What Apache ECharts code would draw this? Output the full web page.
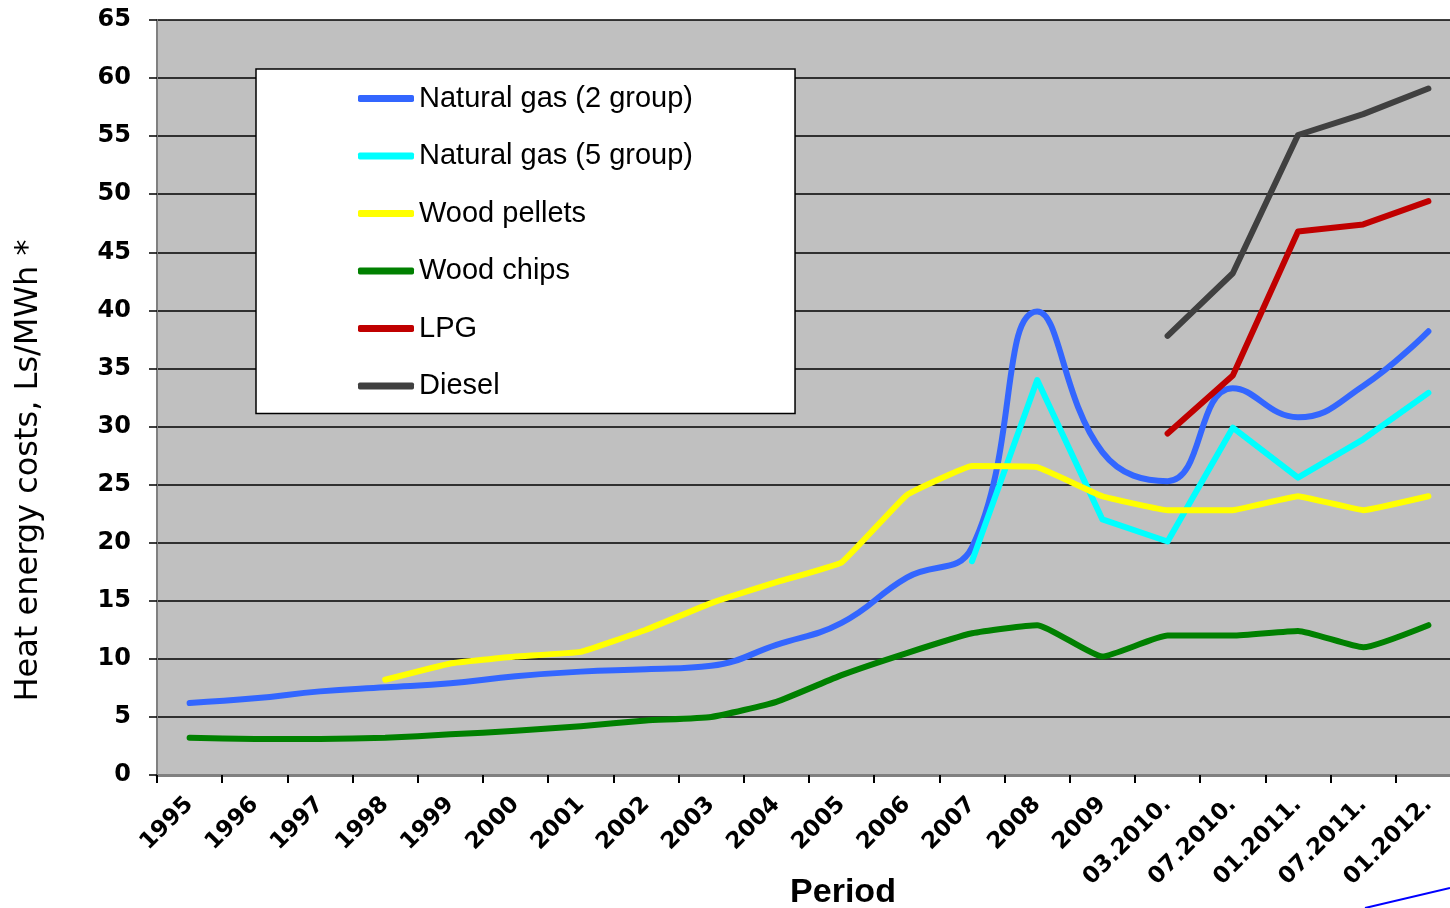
<!DOCTYPE html>
<html>
<head>
<meta charset="utf-8">
<script src="https://cdn.jsdelivr.net/npm/echarts@6/dist/echarts.min.js"></script>
<style>html,body{margin:0;padding:0;background:#fff;}#c{width:1450px;height:908px;}</style>
</head>
<body>
<div id="c"></div>
<script>
var categories = ['1995','1996','1997','1998','1999','2000','2001','2002','2003','2004','2005','2006','2007','2008','2009','03.2010.','07.2010.','01.2011.','07.2011.','01.2012.'];
var yTicks = {min: 0, max: 65, interval: 5};
var natGas2 = [6.2,6.6,7.2,7.55,7.9,8.5,8.9,9.1,9.4,11.2,13.1,17.0,19.6,39.9,27.8,25.3,33.3,30.8,33.5,38.2];
var natGas5 = [null,null,null,null,null,null,null,null,null,null,null,null,18.4,34.0,22.0,20.1,29.9,25.6,28.9,32.9];
var pellets = [null,null,null,8.2,9.6,10.2,10.6,12.5,14.8,16.6,18.3,24.1,26.6,26.5,24.0,22.8,22.8,24.0,22.8,24.0];
var chips = [3.2,3.1,3.1,3.2,3.5,3.8,4.2,4.7,5.0,6.3,8.6,10.5,12.2,12.9,10.2,12.0,12.0,12.4,11.0,12.9];
var lpg = [null,null,null,null,null,null,null,null,null,null,null,null,null,null,null,29.4,34.4,46.8,47.4,49.4];
var diesel = [null,null,null,null,null,null,null,null,null,null,null,null,null,null,null,37.8,43.2,55.1,56.9,59.1];

var names = ['Natural gas (2 group)','Natural gas (5 group)','Wood pellets','Wood chips','LPG','Diesel'];
var colors = ['#3366FF','#00FFFF','#FFFF00','#008000','#C00000','#404040'];
var datas = [natGas2, natGas5, pellets, chips, lpg, diesel];
var smooths = [0.45, false, 0.08, 0.15, false, false];

var chart = echarts.init(document.getElementById('c'));
var series = names.map(function(n, i){
  return {
    name: n, type: 'line', data: datas[i], symbol: 'none', smooth: smooths[i],
    connectNulls: false,
    lineStyle: {color: colors[i], width: 6, cap: 'round', join: 'round'},
    itemStyle: {color: colors[i]},
    emphasis: {disabled: true}
  };
});
chart.setOption({
  animation: false,
  textStyle: {fontFamily: 'Liberation Sans, Arial, sans-serif'},
  grid: {left: 157, top: 20, width: 1304, height: 755, show: true, backgroundColor: '#C0C0C0', borderWidth: 0, containLabel: false, outerBoundsMode: 'none'},
  legend: {
    orient: 'vertical', left: 256, top: 69,
    padding: [14, 102, 12, 102],
    backgroundColor: '#FFFFFF', borderColor: '#000000', borderWidth: 1.5,
    itemWidth: 56, itemHeight: 7, itemGap: 26.5, icon: 'roundRect',
    textStyle: {fontSize: 29, color: '#000', lineHeight: 31, fontFamily: 'Liberation Sans, Arial, sans-serif'},
    data: names
  },
  xAxis: {
    type: 'category', data: categories, boundaryGap: true,
    axisLine: {lineStyle: {color: '#808080', width: 3}},
    axisTick: {show: true, length: 8, lineStyle: {color: '#000', width: 2}},
    axisLabel: {rotate: 45, fontSize: 23, fontWeight: 'bold', color: '#000', margin: 26, interval: 0, fontFamily: 'DejaVu Sans, sans-serif'},
    name: 'Period', nameLocation: 'middle', nameGap: 101, nameMoveOverlap: false,
    nameTextStyle: {fontSize: 34, fontWeight: 'bold', color: '#000', padding: [0, 0, 0, 68]}
  },
  yAxis: {
    type: 'value', min: yTicks.min, max: yTicks.max, interval: yTicks.interval,
    axisLine: {show: true, lineStyle: {color: '#808080', width: 2}},
    axisTick: {show: true, length: 8, lineStyle: {color: '#000', width: 1.5}},
    axisLabel: {fontSize: 24, fontWeight: 'bold', color: '#000', margin: 26, fontFamily: 'DejaVu Sans, sans-serif'},
    splitLine: {show: true, lineStyle: {color: '#000', width: 1.5}},
    name: 'Heat energy costs, Ls/MWh *', nameLocation: 'middle', nameGap: 112, nameRotate: 90, nameMoveOverlap: false,
    nameTextStyle: {fontSize: 32, color: '#000', padding: [0, 146, 0, 0], fontFamily: 'DejaVu Sans, sans-serif'}
  },
  graphic: [{
    type: 'line', silent: true,
    shape: {x1: 1365, y1: 908, x2: 1450, y2: 888},
    style: {stroke: '#0000FF', lineWidth: 2}
  }],
  series: series
});
</script>
</body>
</html>
